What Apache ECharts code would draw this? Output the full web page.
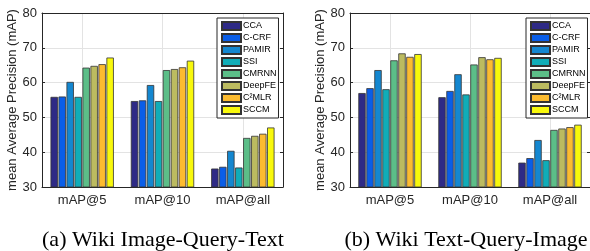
<!DOCTYPE html>
<html>
<head>
  <meta charset="utf-8">
</head>
<body style="margin: 0">
  <div id="container" style="width: 590px; height: 251px"></div>
  <script src="https://cdn.jsdelivr.net/npm/echarts@6/dist/echarts.min.js"></script>
  <script>
var categories = ['mAP@5', 'mAP@10', 'mAP@all'];
var methods = ['CCA', 'C-CRF', 'PAMIR', 'SSI', 'CMRNN', 'DeepFE', 'C²MLR', 'SCCM'];
var colors = ['#2e2a86', '#0a5ee8', '#1487d0', '#10adb8', '#5cbe88', '#bcbb60', '#fcbb30', '#f8f80c'];
var yTicks = { min: 30, max: 80, interval: 10 };

// (a) image query text, one row per method
var imageQueryText = [
  [55.9, 54.7, 35.3],
  [56.0, 54.9, 35.8],
  [60.2, 59.3, 40.4],
  [55.9, 54.7, 35.6],
  [64.3, 63.6, 44.1],
  [64.8, 63.9, 44.7],
  [65.3, 64.4, 45.3],
  [67.2, 66.3, 47.1]
];
// (b) text query image
var textQueryImage = [
  [57.0, 55.8, 37.0],
  [58.4, 57.6, 38.3],
  [63.6, 62.4, 43.5],
  [58.1, 56.6, 37.7],
  [66.4, 65.2, 46.4],
  [68.4, 67.3, 46.8],
  [67.4, 66.7, 47.2],
  [68.2, 67.1, 47.9]
];
var captions = ['(a) Wiki Image-Query-Text', '(b) Wiki Text-Query-Image'];

var chart = echarts.init(document.getElementById('container'), null, { renderer: 'canvas' });
var font = 'Liberation Sans, Arial, sans-serif';
var axisColor = '#262626';
var gridColor = '#e3e3e3';

// half-step slots so vertical grid lines fall on the group centres (matlab style)
var halfSlots = [''];
categories.forEach(function (c) { halfSlots.push(c, ''); });

function bottomX(grid) {
  return {
    type: 'category', gridIndex: grid, data: categories, position: 'bottom',
    axisLine: { lineStyle: { color: axisColor, width: 1 } },
    axisTick: { inside: true, alignWithLabel: true, length: 3, lineStyle: { color: axisColor } },
    axisLabel: { color: axisColor, fontSize: 13, fontFamily: font, margin: 7 },
    splitLine: { show: false }
  };
}
function topX(grid) {
  return {
    type: 'category', gridIndex: grid, data: categories, position: 'top',
    axisLine: { lineStyle: { color: axisColor, width: 1 } },
    axisTick: { inside: true, alignWithLabel: true, length: 3, lineStyle: { color: axisColor } },
    axisLabel: { show: false },
    splitLine: { show: false }
  };
}
function gridX(grid) {
  return {
    type: 'category', gridIndex: grid, data: halfSlots, boundaryGap: false, position: 'bottom',
    axisLine: { show: false }, axisTick: { show: false }, axisLabel: { show: false },
    splitLine: {
      show: true,
      interval: function (idx) { return idx % 2 === 1; },
      lineStyle: { color: gridColor }
    }
  };
}
function leftY(grid) {
  return {
    type: 'value', gridIndex: grid, position: 'left',
    min: yTicks.min, max: yTicks.max, interval: yTicks.interval,
    name: 'mean Average Precision (mAP)', nameLocation: 'middle', nameGap: 23,
    nameTextStyle: { color: axisColor, fontSize: 13, fontFamily: font },
    axisLine: { show: true, lineStyle: { color: axisColor, width: 1 } },
    axisTick: { show: true, inside: true, length: 3, lineStyle: { color: axisColor } },
    axisLabel: { color: axisColor, fontSize: 13, fontFamily: font, margin: 5 },
    splitLine: { show: true, lineStyle: { color: gridColor } }
  };
}
function rightY(grid) {
  return {
    type: 'value', gridIndex: grid, position: 'right',
    min: yTicks.min, max: yTicks.max, interval: yTicks.interval,
    axisLine: { show: true, lineStyle: { color: axisColor, width: 1 } },
    axisTick: { show: true, inside: true, length: 3, lineStyle: { color: axisColor } },
    axisLabel: { show: false },
    splitLine: { show: false }
  };
}

function barSeries(data, grid) {
  return methods.map(function (name, i) {
    return {
      name: name,
      type: 'bar',
      xAxisIndex: grid * 2,
      yAxisIndex: grid * 2,
      barWidth: 7.4,
      barGap: '8%',
      itemStyle: { color: colors[i], borderColor: '#333', borderWidth: 0.8 },
      data: data[i]
    };
  });
}

function legendAt(left) {
  return {
    data: methods,
    orient: 'vertical',
    left: left,
    top: 18,
    itemWidth: 19,
    itemHeight: 8,
    itemGap: 2,
    icon: 'rect',
    padding: [3, 2, 3, 4],
    backgroundColor: '#fff',
    borderColor: axisColor,
    borderWidth: 1,
    borderRadius: 0,
    selectedMode: false,
    textStyle: { color: '#000', fontSize: 9, fontFamily: font, lineHeight: 8, padding: [0, 0, 0, -3] }
  };
}

var option = {
  backgroundColor: '#fff',
  animation: false,
  title: [
    { text: captions[0], left: 158, top: 224, textAlign: 'center',
      textStyle: { fontFamily: 'Liberation Serif, Times New Roman, serif', fontSize: 22, fontWeight: 'normal', color: '#000' } },
    { text: captions[1], left: 461, top: 224, textAlign: 'center',
      textStyle: { fontFamily: 'Liberation Serif, Times New Roman, serif', fontSize: 22, fontWeight: 'normal', color: '#000' } }
  ],
  grid: [
    { left: 42, top: 13, width: 241, height: 174 },
    { left: 350, top: 13, width: 241, height: 174 }
  ],
  legend: [legendAt(217), legendAt(526)],
  xAxis: [bottomX(0), topX(0), bottomX(1), topX(1), gridX(0), gridX(1)],
  yAxis: [leftY(0), rightY(0), leftY(1), rightY(1)],
  series: barSeries(imageQueryText, 0).concat(barSeries(textQueryImage, 1))
};

chart.setOption(option);
window.addEventListener('resize', chart.resize);
  </script>
</body>
</html>
